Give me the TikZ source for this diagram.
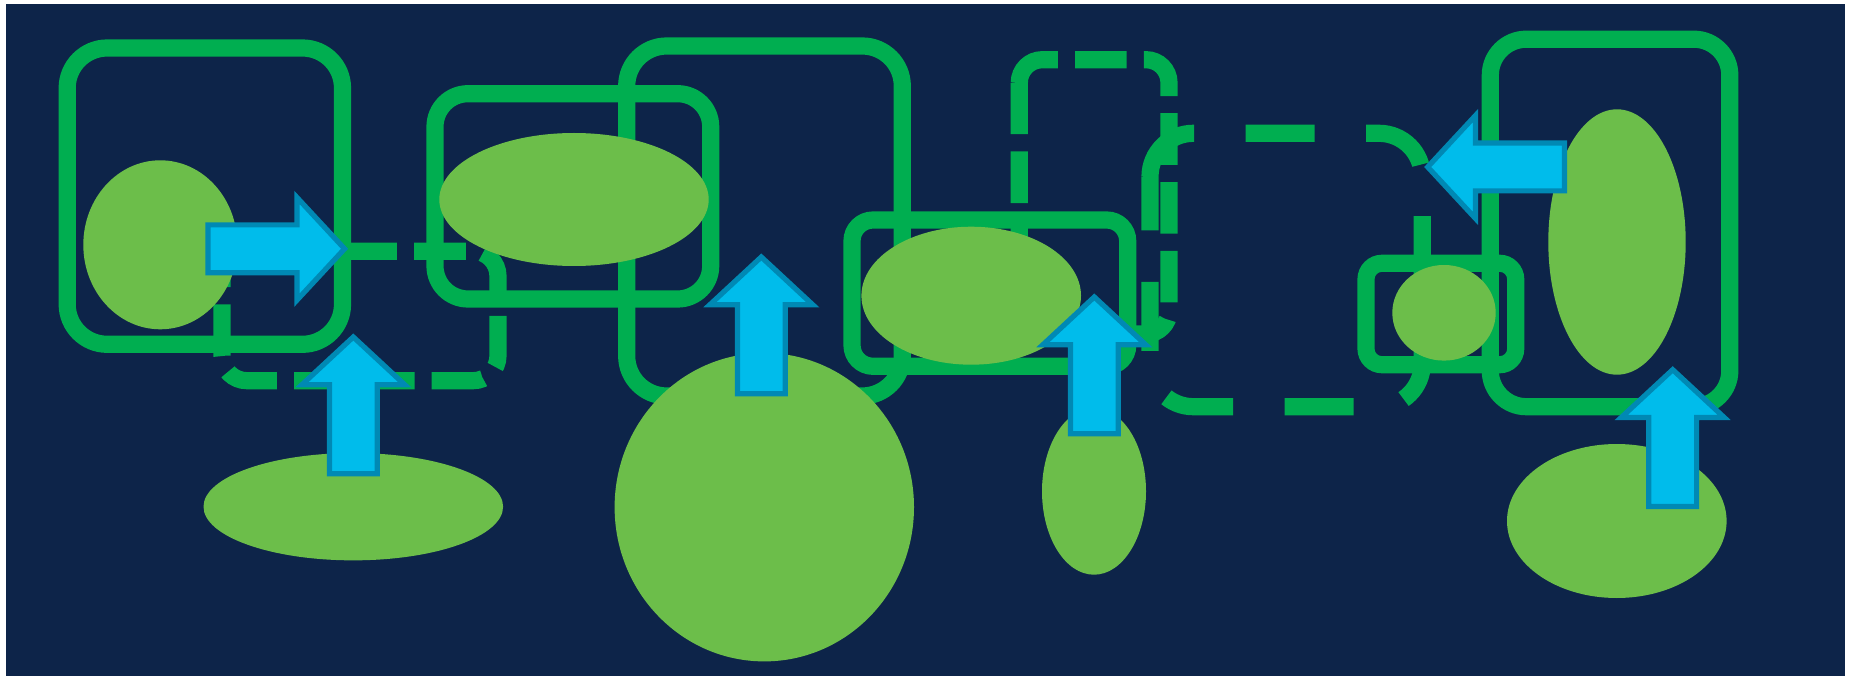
\documentclass[tikz,border=0pt]{standalone}
\usetikzlibrary{shapes.geometric}
\definecolor{navy}{HTML}{0D2449}
\definecolor{lgreen}{HTML}{00AE50}
\definecolor{efill}{HTML}{6CBE4A}
\definecolor{afill}{HTML}{00BCEB}
\definecolor{adraw}{HTML}{0089B4}
\begin{document}
\begin{tikzpicture}[x=1pt,y=-1pt,
  box/.style={draw=lgreen, line width=17.2pt, rectangle, inner sep=0pt, outer sep=0pt},
  loopline/.style={draw=lgreen, line width=17.2pt},
  shortdash/.style={dash pattern=on 51.6pt off 17.2pt},
  longdash/.style={dash pattern=on 68.8pt off 51.6pt},
  blob/.style={ellipse, fill=efill, draw=none, inner sep=0pt, outer sep=0pt},
  barrow/.style={fill=afill, draw=adraw, line width=5.2pt, line join=miter},
  blockarrow/.pic={\draw[barrow] (0,0) -- (-47.7,51.4) -- (-47.7,23.9) -- (-136.7,23.9) -- (-136.7,-23.9) -- (-47.7,-23.9) -- (-47.7,-51.4) -- cycle;}]
\useasboundingbox (0,0) rectangle (1852,676);
\fill[white] (0,0) rectangle (1852,676);
\fill[navy] (6,4) rectangle (1845,676);

% solid rounded boxes
\node[box, rounded corners=40pt, minimum width=275.3pt, minimum height=296.3pt] (boxA) at (204.85,196.15) {};
\node[box, rounded corners=33pt, minimum width=275.7pt, minimum height=205.3pt] (boxB) at (572.85,196.35) {};
\node[box, rounded corners=40pt, minimum width=275.6pt, minimum height=350pt] (boxC) at (764.5,221) {};
\node[box, rounded corners=21pt, minimum width=275.7pt, minimum height=146.3pt] (boxD) at (989.85,293.15) {};
\node[box, rounded corners=16pt, minimum width=149.7pt, minimum height=101.4pt] (boxG) at (1440.85,314) {};
\node[box, rounded corners=36pt, minimum width=239.5pt, minimum height=367.5pt] (boxH) at (1610.05,222.95) {};

% dashed rounded loops
\draw[loopline, shortdash, rounded corners=25pt] (222,276.2) coordinate (loopAs) -- (222,251.2) -- (498,251.2) -- (498,380.7) -- (222,380.7) -- (loopAs);
\draw[loopline, shortdash, rounded corners=23pt] (1019.3,82.7) coordinate (loopBs) -- (1019.3,59.7) -- (1169,59.7) -- (1169,334) -- (1019.3,334) -- (loopBs);
\draw[loopline, longdash, rounded corners=43.3pt] (1150,176.6) coordinate (loopCs) -- (1150,133.3) -- (1422.3,133.3) -- (1422.3,406.7) -- (1150,406.7) -- (loopCs);

% ellipses
\node[blob, minimum width=154pt, minimum height=169pt] (eA) at (160.3,244.8) {};
\node[blob, minimum width=269.4pt, minimum height=133pt] (eB) at (574,199.5) {};
\node[blob, minimum width=299.4pt, minimum height=308.4pt] (eC) at (764.3,507.2) {};
\node[blob, minimum width=219.6pt, minimum height=138pt] (eD) at (971.2,295.7) {};
\node[blob, minimum width=104pt, minimum height=166.8pt] (eE) at (1094,491.3) {};
\node[blob, minimum width=103.4pt, minimum height=95.6pt] (eF) at (1444,312.8) {};
\node[blob, minimum width=137.4pt, minimum height=265.4pt] (eG) at (1617,242) {};
\node[blob, minimum width=219.6pt, minimum height=154pt] (eH) at (1616.8,521) {};
\node[blob, minimum width=299.6pt, minimum height=107.3pt] (eI) at (353.3,506.7) {};

% block arrows
\coordinate (tipR) at (344.6,248.8);
\coordinate (tipU1) at (353.3,337);
\coordinate (tipU2) at (761.3,257);
\coordinate (tipU3) at (1094.3,297);
\coordinate (tipL) at (1427.7,167);
\coordinate (tipU4) at (1672.7,369.7);
\pic (arrR) at (tipR) {blockarrow};
\pic[rotate=90] (arrU1) at (tipU1) {blockarrow};
\pic[rotate=90] (arrU2) at (tipU2) {blockarrow};
\pic[rotate=90] (arrU3) at (tipU3) {blockarrow};
\pic[rotate=180] (arrL) at (tipL) {blockarrow};
\pic[rotate=90] (arrU4) at (tipU4) {blockarrow};
\end{tikzpicture}
\end{document}
